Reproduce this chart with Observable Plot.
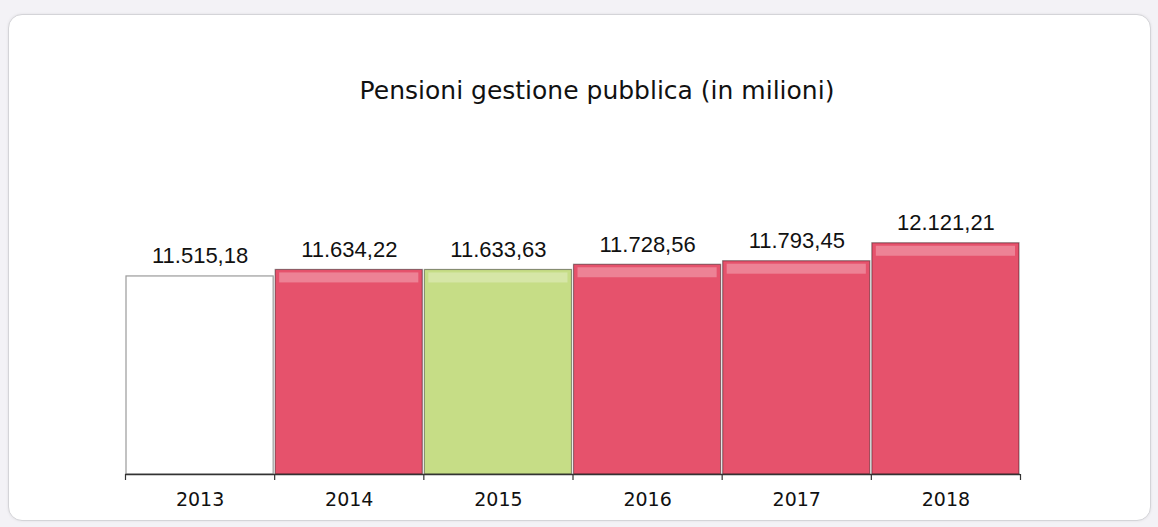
<!DOCTYPE html>
<html>
<head>
<meta charset="utf-8">
<script src="https://cdn.jsdelivr.net/npm/d3@7"></script>
<script src="https://cdn.jsdelivr.net/npm/@observablehq/plot@0.6"></script>
<style>
  html, body { margin: 0; padding: 0; }
  body { width: 1158px; height: 527px; position: relative; background: #f3f2f6; overflow: hidden; }
  #frame { position: absolute; left: 8px; top: 14px; width: 1141px; height: 505px; background: #fff;
           border: 1px solid #d4d4d8; border-radius: 14px; box-shadow: 0 0 3px rgba(0,0,0,0.08); }
  #title { position: absolute; left: 247px; width: 700px; top: 79px; text-align: center;
           font-family: "DejaVu Sans", sans-serif;
           font-size: 25px; line-height: 24px; color: #111; }
  #chart { position: absolute; left: 0; top: 0; }
</style>
</head>
<body>
<div id="frame"></div>
<div id="title">Pensioni gestione pubblica (in milioni)</div>
<div id="chart"></div>
<script>
const years = ["2013", "2014", "2015", "2016", "2017", "2018"];
const values = [11515.18, 11634.22, 11633.63, 11728.56, 11793.45, 12121.21];
const yBase = 7900;
const yMax = 12500;

const rows = years.map((year, i) => ({
  year, i, value: values[i],
  change: i === 0 ? "base" : (values[i] < values[i - 1] ? "decrease" : "increase")
}));

const fmt = d3.formatLocale({decimal: ",", thousands: ".", grouping: [3], currency: ["€", ""]}).format(",.2f");

const chart = Plot.plot({
  width: 1158,
  height: 527,
  marginLeft: 125,
  marginRight: 138,
  marginTop: 20,
  marginBottom: 53,
  style: {background: "transparent", color: "#111"},
  x: {domain: [0, years.length], axis: null},
  y: {domain: [yBase, yMax], range: [474, 222], axis: null},
  color: {domain: ["base", "increase", "decrease"], range: ["#ffffff", "#e6526c", "#c6dd86"]},
  marks: [
    Plot.rect(rows, {
      x1: d => d.i, x2: d => d.i + 1, y1: yBase, y2: "value",
      fill: "change", stroke: "black", strokeOpacity: 0.4, strokeWidth: 1.2,
      insetLeft: 1, insetRight: 1
    }),
    Plot.rect(rows, {
      x1: d => d.i, x2: d => d.i + 1, y1: "value", y2: "value",
      fill: "white", fillOpacity: d => d.change === "base" ? 0 : 0.28,
      insetTop: 3, insetBottom: -13, insetLeft: 5, insetRight: 5
    }),
    Plot.ruleY([yBase], {stroke: "#333", strokeWidth: 1.3}),
    Plot.axisX({
      ticks: d3.range(years.length + 1), tickSize: 6, tickFormat: () => "",
      stroke: "#333", strokeWidth: 1.2
    }),
    Plot.axisX({
      ticks: years.map((y, i) => i + 0.5), tickSize: 0, tickPadding: 18,
      tickFormat: c => years[Math.floor(c)],
      fontSize: 19, fontFamily: "DejaVu Sans", fill: "#111"
    }),
    Plot.text(rows, {
      x: d => d.i + 0.5, y: "value", text: d => fmt(d.value),
      lineAnchor: "bottom", dy: -13,
      fontSize: 22, fontFamily: "Liberation Sans", fill: "#111"
    })
  ]
});
document.getElementById("chart").appendChild(chart);
</script>
</body>
</html>
